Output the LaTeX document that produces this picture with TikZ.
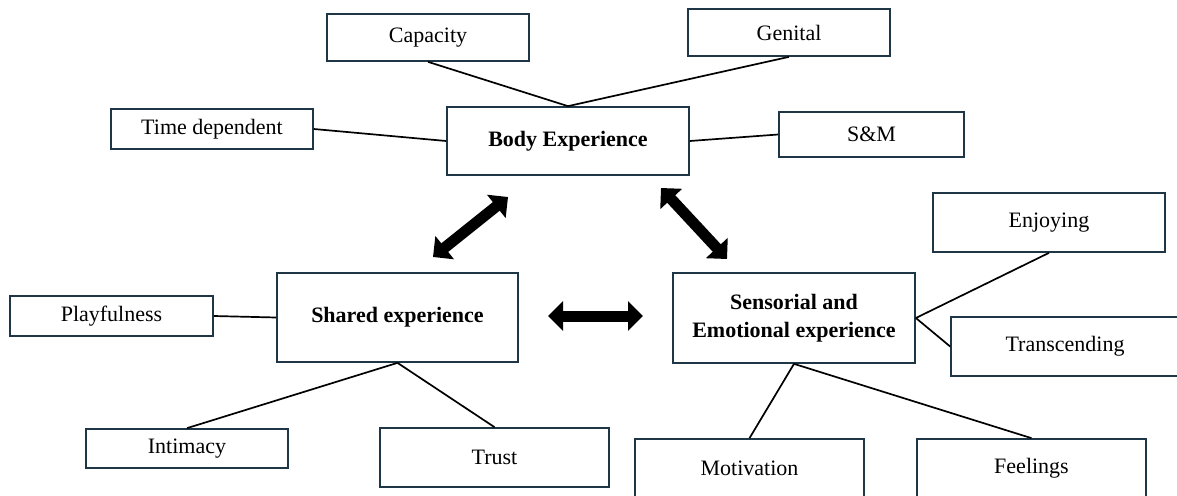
\documentclass[tikz,border=0pt]{standalone}
\usepackage{fontspec}
\setmainfont{Liberation Serif}
\usetikzlibrary{arrows.meta}
\definecolor{boxc}{HTML}{1F3646}
\begin{document}
\begin{tikzpicture}[x=1pt,y=-1pt,
  box/.style={draw=boxc,line width=1.7pt,fill=white,inner sep=0pt,align=center,font=\fontsize{22}{28}\selectfont},
  mainbox/.style={box,font=\fontsize{22}{28}\selectfont\bfseries},
  link/.style={draw=black,line width=1.7pt},
  bigarrow/.style={line width=11pt,{Triangle[width=29pt,length=15pt]}-{Triangle[width=29pt,length=15pt]}}]
\useasboundingbox (0,0) rectangle (1177,495);
% main nodes
\node[mainbox,minimum width=242pt,minimum height=68pt] (body) at (568,141) {Body Experience};
\node[mainbox,minimum width=241pt,minimum height=89pt] (shared) at (397.5,317.5) {Shared experience};
\node[mainbox,minimum width=242pt,minimum height=90pt] (sens) at (794,318) {Sensorial and\\Emotional experience};
% leaves
\node[box,minimum width=202pt,minimum height=47pt] (cap) at (428,37.5) {Capacity};
\node[box,minimum width=202pt,minimum height=47pt] (gen) at (789,32.5) {Genital};
\node[box,minimum width=202pt,minimum height=40pt] (time) at (212,129) {Time dependent};
\node[box,minimum width=185pt,minimum height=45pt] (sm) at (871.5,134.5) {S\&M};
\node[box,minimum width=203pt,minimum height=40pt] (play) at (111.5,316) {Playfulness};
\node[box,minimum width=202pt,minimum height=39pt] (intim) at (187,448.5) {Intimacy};
\node[box,minimum width=229pt,minimum height=59pt] (trust) at (494.5,457.5) {Trust};
\node[box,minimum width=232pt,minimum height=59pt] (enj) at (1049,222.5) {Enjoying};
\node[box,minimum width=228pt,minimum height=59pt] (trans) at (1065,346.5) {Transcending};
\node[box,minimum width=229pt,minimum height=59pt] (motiv) at (749.5,468.5) {Motivation};
\node[box,minimum width=229pt,minimum height=59pt] (feel) at (1031.5,468.5) {Feelings};
% links
\draw[link] (cap.south) -- (body.north);
\draw[link] (gen.south) -- (body.north);
\draw[link] (time.east) -- (body.west);
\draw[link] (sm.west) -- (body.east);
\draw[link] (play.east) -- (shared.west);
\draw[link] (shared.south) -- (intim.north);
\draw[link] (shared.south) -- (trust.north);
\draw[link] (sens.east) -- (enj.south);
\draw[link] (sens.east) -- (trans.west);
\draw[link] (sens.south) -- (motiv.north);
\draw[link] (sens.south) -- (feel.north);
% big arrows
\coordinate (a1s) at (433,257);
\coordinate (a1e) at (508,197);
\coordinate (a2s) at (661,188);
\coordinate (a2e) at (727,259);
\coordinate (a3s) at (548,316);
\coordinate (a3e) at (643,316);
\draw[bigarrow] (a1s) -- (a1e);
\draw[bigarrow] (a2s) -- (a2e);
\draw[bigarrow] (a3s) -- (a3e);
\end{tikzpicture}
\end{document}
